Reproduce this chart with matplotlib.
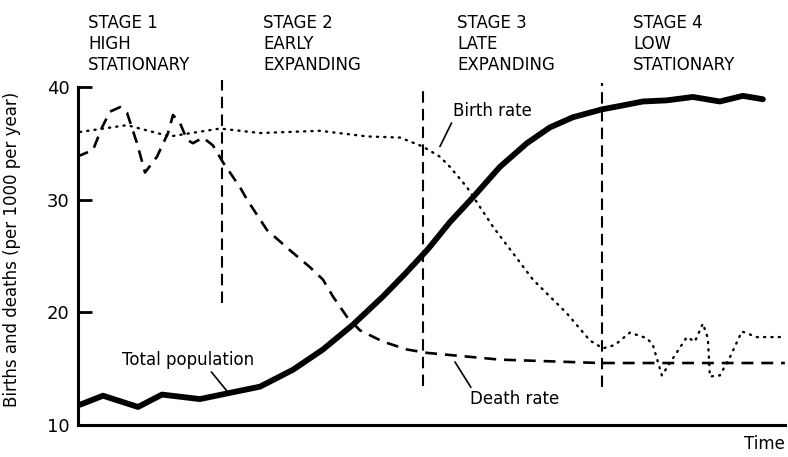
import numpy as np
import matplotlib.pyplot as plt

plt.rcParams['font.family'] = ['DejaVu Sans']

# time in arbitrary units (0 = start of record)
pop_t = [2, 25, 60, 84, 122, 149, 182, 215, 245, 275, 305, 327, 350, 372,
         395, 422, 449, 472, 495, 524, 542, 565, 589, 615, 642, 665, 685]
pop_v = [11.8, 12.6, 11.6, 12.7, 12.3, 12.8, 13.4, 14.9, 16.7, 18.9, 21.4, 23.4,
         25.6, 28.0, 30.2, 32.9, 35.0, 36.4, 37.3, 38.0, 38.3, 38.7, 38.8,
         39.1, 38.7, 39.2, 38.9]

death_t = [-1, 15, 24, 32, 42, 49, 59, 67, 79, 90, 95, 102, 109, 115, 125, 135,
           145, 162, 169, 189, 212, 232, 245, 255, 269, 282, 305, 329, 349, 422,
           522, 707]
death_v = [33.8, 34.4, 36.4, 37.8, 38.2, 37.7, 35.0, 32.4, 33.8, 35.9, 37.5, 36.8,
           35.3, 35.0, 35.5, 34.8, 33.3, 31.1, 30.0, 27.3, 25.5, 24.0, 22.9, 21.4,
           19.6, 18.4, 17.4, 16.7, 16.4, 15.8, 15.5, 15.5]

birth_t = [2, 49, 92, 142, 182, 242, 289, 322, 345, 362, 372, 389, 415, 455, 489,
           512, 525, 537, 552, 569, 575, 584, 592, 609, 617, 625, 630, 632, 642,
           652, 664, 679, 704]
birth_v = [36.0, 36.6, 35.6, 36.3, 35.9, 36.1, 35.6, 35.5, 34.7, 33.8, 32.9, 31.1,
           27.6, 22.9, 19.9, 17.5, 16.8, 17.1, 18.2, 17.7, 17.1, 14.4, 15.5, 17.8,
           17.4, 19.0, 17.7, 14.3, 14.4, 16.0, 18.3, 17.8, 17.8]

# stage boundaries: position, bottom, top of dashed marker
bounds_t = [144, 345, 524]
bounds_lo = [20.8, 13.5, 13.4]
bounds_hi = [40.6, 40.0, 40.3]

stage_t = [10, 185, 379, 555]
stage_txt = ['STAGE 1\nHIGH\nSTATIONARY', 'STAGE 2\nEARLY\nEXPANDING',
             'STAGE 3\nLATE\nEXPANDING', 'STAGE 4\nLOW\nSTATIONARY']

fig = plt.figure(figsize=(7.88, 4.57), dpi=100)
ax = fig.add_axes([0.099, 0.07, 0.897, 0.74])

ax.plot(pop_t, pop_v, color='black', lw=4.2, solid_capstyle='round',
        solid_joinstyle='round')
ax.plot(death_t, death_v, color='black', lw=1.9, linestyle=(0, (4.5, 3)))
ax.plot(birth_t, birth_v, color='black', lw=1.7, linestyle=(0, (0.5, 2.6)),
        dash_capstyle='round')

for t, lo, hi in zip(bounds_t, bounds_lo, bounds_hi):
    ax.plot([t, t], [lo, hi], color='black', lw=1.5, linestyle=(0, (5.5, 3)),
            clip_on=False)

for t, s in zip(stage_t, stage_txt):
    ax.text(t, 43.8, s, fontsize=12, va='center', ha='left',
            linespacing=1.2, clip_on=False)

# annotations with leader lines
lead = dict(arrowstyle='-', color='black', lw=1.2, shrinkA=0, shrinkB=0)
ax.annotate('Birth rate', xy=(362, 34.7), xytext=(375, 37.4), fontsize=12,
            va='baseline', ha='left', arrowprops=dict(lead, relpos=(0.0, 0)))
ax.annotate('Death rate', xy=(377, 15.6), xytext=(392, 13.1), fontsize=12,
            va='top', ha='left', arrowprops=dict(lead, relpos=(0.03, 1)))
ax.annotate('Total population', xy=(150, 12.9), xytext=(44, 15.3), fontsize=12,
            va='baseline', ha='left', arrowprops=dict(lead, relpos=(0.66, 0)))

ax.set_xlim(0, 707)
ax.set_ylim(10, 40)
ax.set_yticks([10, 20, 30, 40])
ax.set_xticks([])
ax.tick_params(axis='y', direction='in', length=10, width=2, labelsize=13,
               pad=6)
for side in ['top', 'right']:
    ax.spines[side].set_visible(False)
ax.spines['left'].set_linewidth(2.2)
ax.spines['bottom'].set_linewidth(2.2)

ax.set_ylabel('Births and deaths (per 1000 per year)', fontsize=12)
ax.yaxis.set_label_coords(-0.08, 0.52)
ax.text(1.0, -0.055, 'Time', transform=ax.transAxes, fontsize=12,
        ha='right', va='center')

fig.savefig('out.png', dpi=100)
